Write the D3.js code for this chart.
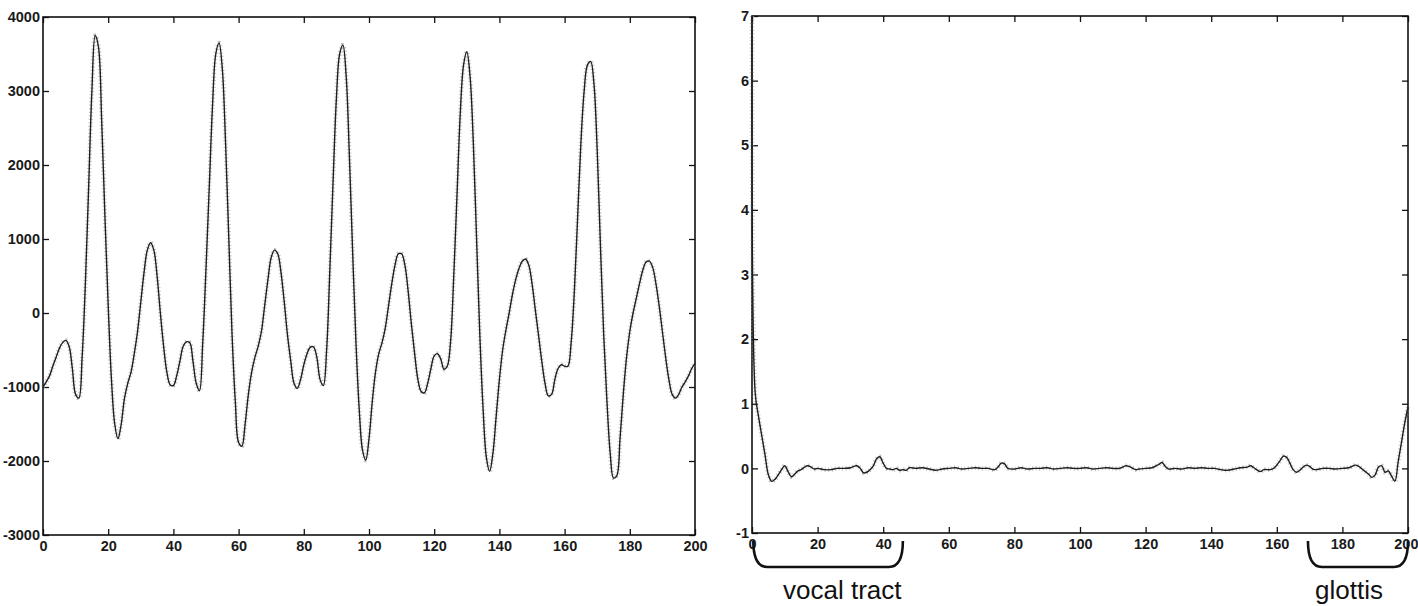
<!DOCTYPE html>
<html>
<head>
<meta charset="utf-8">
<script src="https://cdn.jsdelivr.net/npm/d3@7"></script>
<style>
body{margin:0;background:#fff;}
</style>
</head>
<body>
<script>

// speech frame, one value per sample 0..200
var speechVals = [
 -1000,-930,-850,-720,-600,-480,-400,-370,-450,-750,
 -1100,-1150,-600,400,1700,3000,3750,3600,2600,1300,
 100,-900,-1500,-1700,-1500,-1150,-950,-800,-550,-250,
 150,550,850,950,850,500,0,-450,-800,-970,
 -980,-850,-650,-450,-390,-400,-650,-950,-1050,-400,
 600,1700,2800,3500,3650,3300,2300,1000,-300,-1200,
 -1750,-1800,-1500,-1100,-800,-600,-450,-250,100,450,
 750,850,800,550,150,-300,-650,-950,-1020,-900,
 -700,-550,-460,-460,-600,-900,-980,-500,600,1800,
 2900,3500,3620,3200,2100,800,-400,-1300,-1850,-1990,
 -1700,-1200,-800,-550,-400,-200,100,400,650,800,
 800,650,300,-150,-550,-900,-1060,-1080,-950,-750,
 -580,-550,-620,-760,-720,-400,500,1600,2700,3350,
 3530,3200,2300,1000,-300,-1300,-1950,-2140,-1900,-1400,
 -900,-500,-230,0,250,450,600,700,730,650,
 400,50,-300,-650,-950,-1120,-1100,-900,-750,-700,
 -720,-720,-400,300,1300,2300,3000,3350,3400,3100,
 2200,900,-300,-1200,-1900,-2230,-2200,-1700,-1100,-600,
 -250,0,200,400,580,690,700,620,400,100,
 -250,-600,-900,-1100,-1150,-1100,-1000,-930,-850,-750,
 -680
];

// cepstrum, read at uneven lags
var cepIdx = [0,1,2,3,4,5,6,7,8,9,10,11,12,13,14,15,16,17,18,19,20,22,24,26,28,30,31,32,33,34,35,36,37,38,39,40,41,42,43,44,45,46,47,48,50,52,54,56,58,60,62,64,66,68,70,72,74,75,76,77,78,80,82,84,86,88,90,92,94,96,98,100,102,104,106,108,110,112,114,115,117,118,120,122,124,125,126,127,129,131,133,135,137,139,141,143,145,147,149,151,152,153,155,156,158,159,160,161,162,163,164,165,166,167,168,169,170,171,172,174,176,178,180,182,184,185,186,187,188,189,190,191,192,193,194,195,196,197,198,199,200];
var cepVals = [7.0,1.15,0.8,0.5,0.2,-0.1,-0.2,-0.17,-0.1,-0.02,0.04,-0.05,-0.13,-0.09,-0.04,-0.02,0.02,0.04,0.02,-0.01,0.0,-0.02,-0.02,0.0,0.0,0.01,0.03,0.04,0.0,-0.07,-0.06,-0.02,0.04,0.15,0.18,0.08,0.0,-0.01,-0.02,0.0,-0.03,-0.02,-0.03,0.01,0.0,0.01,-0.01,-0.03,-0.01,0.0,0.01,-0.01,0.0,0.01,0.0,0.0,-0.02,0.02,0.08,0.07,0.0,-0.01,0.01,-0.01,0.0,0.0,0.01,-0.01,0.0,0.01,0.0,0.0,0.01,-0.01,0.0,0.01,0.0,0.0,0.04,0.03,-0.02,-0.01,0.0,0.01,0.06,0.09,0.03,-0.01,0.0,-0.01,0.01,0.0,0.01,0.0,0.0,-0.02,-0.03,-0.01,0.01,0.02,0.04,0.01,-0.05,-0.02,-0.02,0.0,0.05,0.12,0.19,0.17,0.08,-0.02,-0.06,-0.03,0.02,0.05,0.03,-0.01,-0.02,0.0,0.0,-0.01,0.0,0.01,0.05,0.03,-0.01,-0.05,-0.09,-0.14,-0.1,0.02,0.04,-0.06,-0.04,-0.12,-0.2,0.1,0.4,0.7,0.95];

var xTicks = [0,20,40,60,80,100,120,140,160,180,200];
var speechTicks = [-3000,-2000,-1000,0,1000,2000,3000,4000];
var cepTicks = [-1,0,1,2,3,4,5,6,7];

var svg = d3.select("body")
  .append("svg")
  .attr("width",1418)
  .attr("height",606)
  .style("font-family","'Liberation Sans',Arial,sans-serif");

function drawPanel(left,right,top,bottom,ydom,yticks,pts){
  var x = d3.scaleLinear().domain([0,200]).range([left,right]);
  var y = d3.scaleLinear().domain(ydom).range([bottom,top]);
  var g = svg.append("g");

  var fmt = function(d){ return String(d); };

  var ax = g.append("g").attr("transform","translate(0,"+bottom+")")
    .call(d3.axisBottom(x).tickValues(xTicks).tickSizeInner(-6).tickSizeOuter(0).tickPadding(6));
  g.append("g").attr("transform","translate(0,"+top+")")
    .call(d3.axisTop(x).tickValues(xTicks).tickSizeInner(-6).tickSizeOuter(0).tickFormat(""));
  var ay = g.append("g").attr("transform","translate("+left+",0)")
    .call(d3.axisLeft(y).tickValues(yticks).tickSizeInner(-6).tickSizeOuter(0).tickPadding(3).tickFormat(fmt));
  g.append("g").attr("transform","translate("+right+",0)")
    .call(d3.axisRight(y).tickValues(yticks).tickSizeInner(-6).tickSizeOuter(0).tickFormat(""));

  g.selectAll(".domain").remove();
  g.selectAll(".tick line").attr("stroke","#111").attr("stroke-width",1.3);
  g.selectAll(".tick text")
    .attr("font-family","'Liberation Sans',Arial,sans-serif")
    .attr("font-size","14.5px")
    .attr("font-weight","bold")
    .attr("fill","#1a1a1a");

  // keep the last x label inside the page
  ax.selectAll(".tick text").filter(function(d){ return x(d) > 1400; })
    .attr("text-anchor","end").attr("x",10);

  g.append("rect")
    .attr("x",left).attr("y",top)
    .attr("width",right-left).attr("height",bottom-top)
    .attr("fill","none").attr("stroke","#111").attr("stroke-width",1.6);

  var line = d3.line()
    .x(function(d){return x(d[0]);})
    .y(function(d){return y(d[1]);})
    .curve(d3.curveCatmullRom.alpha(0.5));

  // grey speckle from the scan
  g.append("path").datum(pts).attr("d",line)
    .attr("fill","none").attr("stroke","#9a9a9a").attr("stroke-width",4.5)
    .attr("stroke-dasharray","1,2.5").attr("opacity",0.6);
  g.append("path").datum(pts).attr("d",line)
    .attr("fill","none").attr("stroke","#1e1e1e").attr("stroke-width",1.4);
}

var speechPts = speechVals.map(function(v,i){ return [i,v]; });
var cepPts = cepIdx.map(function(d,i){ return [d,cepVals[i]]; });

drawPanel(43,695,17,535,[-3000,4000],speechTicks,speechPts);
drawPanel(752,1408,16,533,[-1,7],cepTicks,cepPts);

// brackets under the cepstrum
var xc = d3.scaleLinear().domain([0,200]).range([752,1408]);
function bracket(a,b){
  var x0 = xc(a), x1 = xc(b), yt = 541, yb = 567, r = 14;
  return "M"+x0+","+yt+" Q"+x0+","+yb+" "+(x0+r)+","+yb+
    " L"+(x1-r)+","+yb+" Q"+x1+","+yb+" "+x1+","+yt;
}
svg.append("path").attr("d",bracket(0.4,46))
  .attr("fill","none").attr("stroke","#111").attr("stroke-width",2.6);
svg.append("path").attr("d",bracket(169.5,200))
  .attr("fill","none").attr("stroke","#111").attr("stroke-width",2.6);

svg.append("text").attr("x",783).attr("y",599).text("vocal tract")
  .attr("font-family","'Liberation Sans',Arial,sans-serif")
  .attr("font-size","26px").attr("fill","#111");
svg.append("text").attr("x",1315).attr("y",599).text("glottis")
  .attr("font-family","'Liberation Sans',Arial,sans-serif")
  .attr("font-size","26px").attr("fill","#111");

</script>
</body>
</html>
